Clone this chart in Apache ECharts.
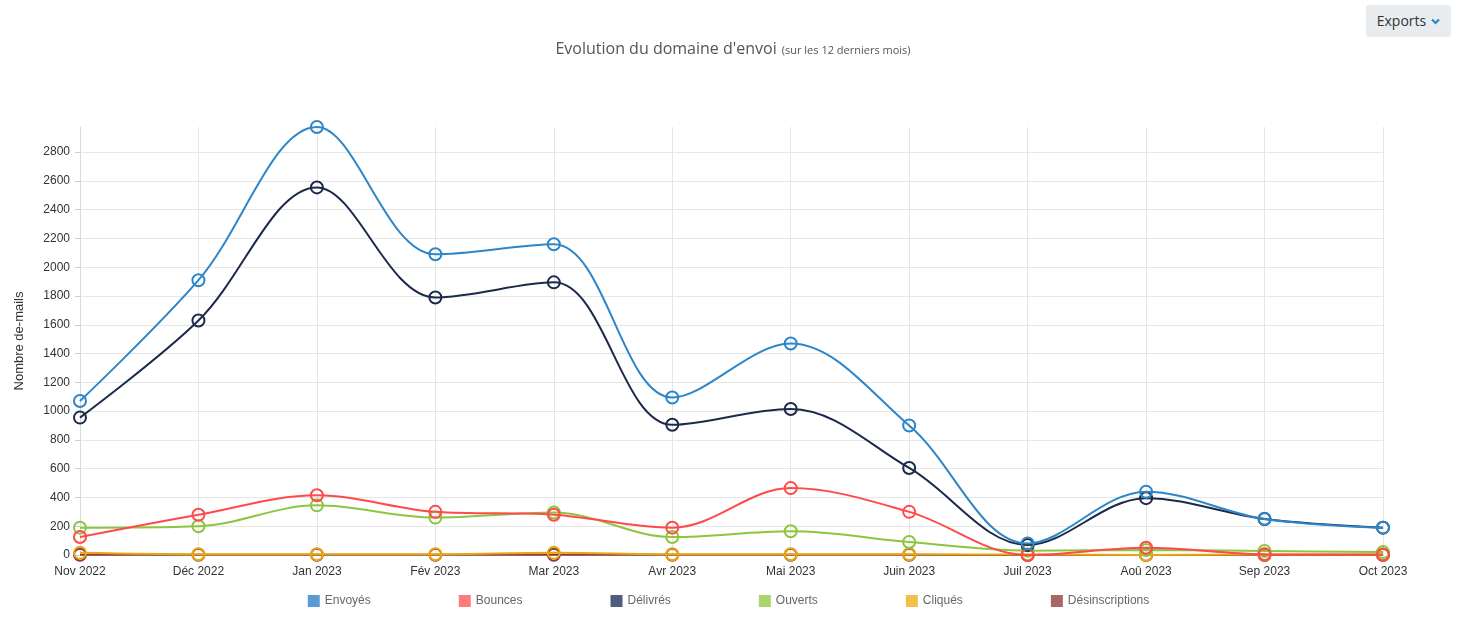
<!DOCTYPE html>
<html>
<head>
<meta charset="utf-8">
<script src="https://cdn.jsdelivr.net/npm/echarts@6/dist/echarts.min.js"></script>
<style>
  html, body { margin: 0; padding: 0; background: #fff; }
  #chart { width: 1457px; height: 626px; }
  #exports {
    position: absolute; left: 1366px; top: 5px; width: 85px; height: 32px;
    background: #e9ecef; border-radius: 3px; font-family: "Open Sans", sans-serif;
    font-size: 14px; color: #333; line-height: 32px; text-align: center; box-sizing: border-box;
  }
  #exports svg { margin-left: 5px; vertical-align: middle; position: relative; top: -1px; }
</style>
</head>
<body>
<div id="chart"></div>
<div id="exports">Exports<svg width="9" height="7" viewBox="0 0 9 7"><polyline points="1,1.5 4.5,5 8,1.5" fill="none" stroke="#2e86c8" stroke-width="2.2"/></svg></div>
<script>
const categories = ["Nov 2022","Déc 2022","Jan 2023","Fév 2023","Mar 2023","Avr 2023","Mai 2023","Juin 2023","Juil 2023","Aoû 2023","Sep 2023","Oct 2023"];
const envoyes = [1070, 1910, 2975, 2090, 2160, 1095, 1470, 900, 80, 440, 250, 190];
const bounces = [125, 280, 415, 300, 280, 190, 465, 300, 0, 50, 5, 3];
const delivres = [955, 1630, 2555, 1790, 1895, 905, 1015, 605, 70, 395, 250, 190];
const ouverts = [190, 200, 345, 260, 295, 125, 165, 90, 30, 35, 28, 20];
const cliques = [15, 5, 5, 5, 15, 5, 5, 5, 3, 0, 3, 3];
const desinscriptions = [2, 1, 1, 1, 2, 1, 1, 1, 0, 0, 0, 0];
const yTicks = [0, 200, 400, 600, 800, 1000, 1200, 1400, 1600, 1800, 2000, 2200, 2400, 2600, 2800];

const seriesDefs = [
  { name: "Envoyés", data: envoyes, line: "#2e86c8", legend: "#5b9bd5" },
  { name: "Bounces", data: bounces, line: "#ff4a4a", legend: "#ff7b7b" },
  { name: "Délivrés", data: delivres, line: "#1c2a4a", legend: "#4d5d7b" },
  { name: "Ouverts", data: ouverts, line: "#8cc63f", legend: "#a9d66b" },
  { name: "Cliqués", data: cliques, line: "#e8a712", legend: "#f0c04a" },
  { name: "Désinscriptions", data: desinscriptions, line: "#8c3a3a", legend: "#a86767" }
];

const yMax = Math.max(...envoyes);
const splitColors = yTicks.map(() => "#e6e6e6").concat(["rgba(0,0,0,0)"]);

const chart = echarts.init(document.getElementById("chart"));
chart.setOption({
  animation: false,
  title: {
    text: "{a|Evolution du domaine d'envoi} {b|(sur les 12 derniers mois)}",
    left: 728, top: 35, textAlign: "center",
    textStyle: {
      rich: {
        a: { fontFamily: "Open Sans", fontSize: 16, fontWeight: "normal", color: "#555" },
        b: { fontFamily: "Open Sans", fontSize: 11, fontWeight: "normal", color: "#555", padding: [3, 0, 0, 0] }
      }
    }
  },
  legend: {
    bottom: 14, left: "center",
    icon: "rect", itemWidth: 12, itemHeight: 12, itemGap: 88,
    textStyle: { fontFamily: "Liberation Sans, Arial", fontSize: 12, color: "#666" },
    data: seriesDefs.map(s => ({ name: s.name, itemStyle: { color: s.legend, borderWidth: 0 } }))
  },
  grid: { left: 80, right: 74, top: 127, bottom: 71, containLabel: false },
  xAxis: {
    type: "category", data: categories, boundaryGap: false,
    axisLine: { lineStyle: { color: "#d9d9d9" } },
    axisTick: { show: false },
    axisLabel: { fontFamily: "Liberation Sans, Arial", fontSize: 12, color: "#333", margin: 11, interval: 0 },
    splitLine: { show: true, lineStyle: { color: "#e6e6e6" } }
  },
  yAxis: {
    type: "value", min: 0, max: yMax, interval: 200,
    name: "Nombre de-mails", nameLocation: "middle", nameGap: 54, nameRotate: 90,
    nameTextStyle: { fontFamily: "Liberation Sans, Arial", fontSize: 13, color: "#333" },
    axisLine: { show: true, lineStyle: { color: "#d9d9d9" } },
    axisTick: { show: true, length: 5, lineStyle: { color: "#cccccc" } },
    axisLabel: { fontFamily: "Liberation Sans, Arial", fontSize: 12, color: "#333", margin: 10, showMaxLabel: false,
      formatter: v => String(v) },
    splitLine: { show: true, lineStyle: { color: splitColors } }
  },
  series: seriesDefs.map((s, i) => ({
    name: s.name, type: "line", data: s.data, smooth: 0.35,
    z: 20 - i,
    symbol: "circle", symbolSize: 12,
    lineStyle: { color: s.line, width: 2 },
    itemStyle: { color: "rgba(255,255,255,0)", borderColor: s.line, borderWidth: 2 }
  }))
});
</script>
</body>
</html>
